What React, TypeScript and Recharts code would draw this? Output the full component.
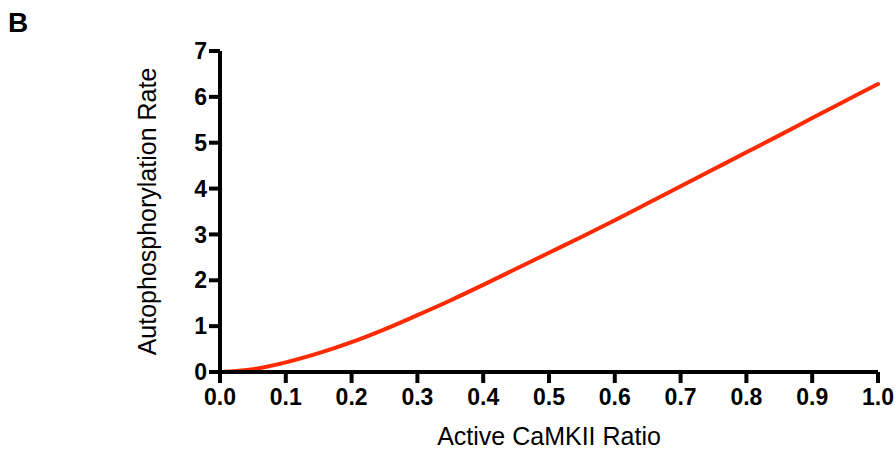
import { LineChart, Line, XAxis, YAxis } from 'recharts'

const ratio = [0, 0.05, 0.1, 0.15, 0.2, 0.25, 0.3, 0.35, 0.4, 0.45, 0.5, 0.55, 0.6, 0.65, 0.7, 0.75, 0.8, 0.85, 0.9, 0.95, 1.0]
const rate = [0, 0.06, 0.21, 0.41, 0.65, 0.93, 1.24, 1.56, 1.9, 2.25, 2.6, 2.95, 3.31, 3.68, 4.05, 4.42, 4.79, 5.16, 5.54, 5.91, 6.28]

const xTicks = [0, 0.1, 0.2, 0.3, 0.4, 0.5, 0.6, 0.7, 0.8, 0.9, 1.0]
const yTicks = [0, 1, 2, 3, 4, 5, 6, 7]

const data = ratio.map((r, i) => ({ ratio: r, rate: rate[i] }))

const FONT = '"Liberation Sans", Arial, sans-serif'
const tickStyle = { fontSize: 23, fontWeight: 700, fill: '#000', fontFamily: FONT }

export default function App() {
  return (
    <div style={{ position: 'absolute', left: 0, top: 0, width: 896, height: 449, background: '#fff' }}>
      <div
        style={{
          position: 'absolute',
          left: 8,
          top: 7,
          fontFamily: FONT,
          fontWeight: 700,
          fontSize: 28,
          lineHeight: 'normal',
          color: '#000',
        }}
      >
        B
      </div>
      <LineChart width={896} height={449} data={data} margin={{ top: 51, right: 18, left: 74, bottom: 0 }}>
        <XAxis
          dataKey="ratio"
          type="number"
          domain={[0, 1]}
          ticks={xTicks}
          tickFormatter={(v: number) => v.toFixed(1)}
          height={77}
          tickSize={11}
          tickMargin={6}
          axisLine={{ stroke: '#000', strokeWidth: 4 }}
          tickLine={{ stroke: '#000', strokeWidth: 4 }}
          tick={tickStyle}
          interval={0}
          label={{
            value: 'Active CaMKII Ratio',
            position: 'insideBottom',
            offset: 4,
            style: { fontSize: 25, fill: '#000', fontFamily: FONT },
          }}
        />
        <YAxis
          type="number"
          domain={[0, 7]}
          ticks={yTicks}
          width={146}
          tickSize={11}
          tickMargin={2}
          axisLine={{ stroke: '#000', strokeWidth: 4 }}
          tickLine={{ stroke: '#000', strokeWidth: 4 }}
          tick={tickStyle}
          interval={0}
          label={{
            value: 'Autophosphorylation Rate',
            angle: -90,
            position: 'center',
            style: { fontSize: 25, fill: '#000', fontFamily: FONT, textAnchor: 'middle' },
          }}
        />
        <Line
          type="monotone"
          dataKey="rate"
          stroke="#FF2A00"
          strokeWidth={4}
          strokeLinecap="round"
          dot={false}
          isAnimationActive={false}
        />
      </LineChart>
    </div>
  )
}
